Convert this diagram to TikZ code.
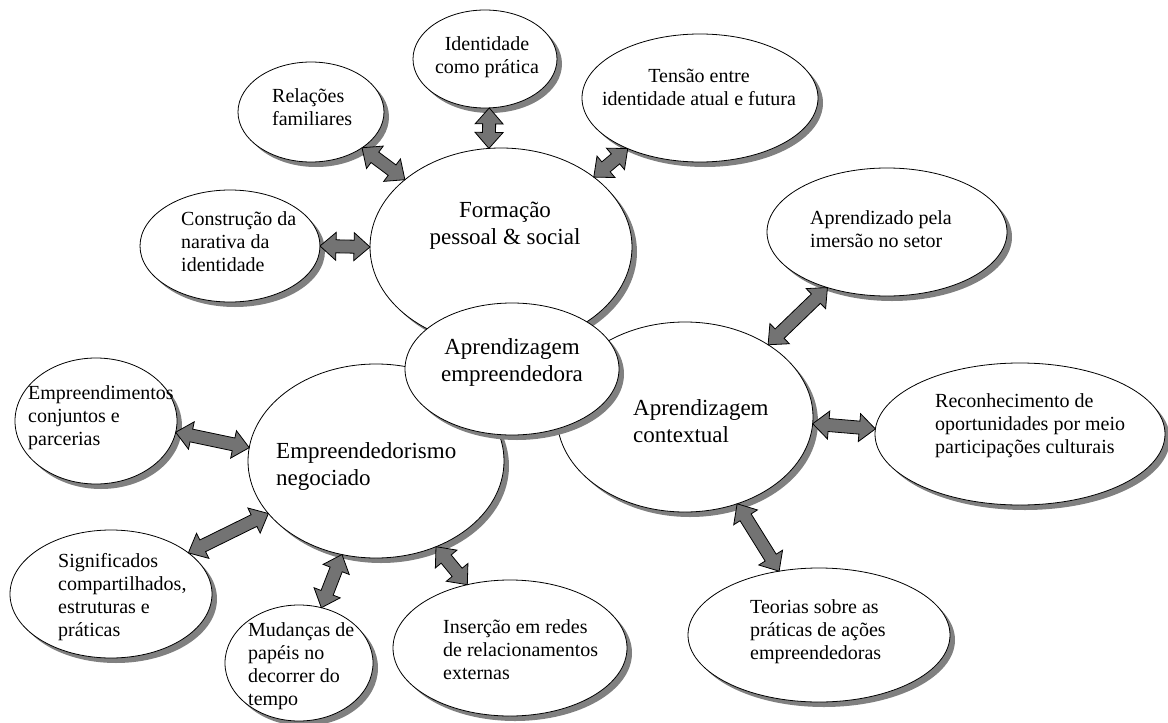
\documentclass[tikz,border=0pt]{standalone}
\usepackage{fontspec}
\setmainfont{Liberation Serif}
\usetikzlibrary{shapes.geometric,shadows,calc}

\tikzset{
  bubble/.style={ellipse, draw=black, line width=0.8pt, fill=white,
    inner sep=0pt, outer sep=0pt,
    drop shadow={shadow xshift=5pt, shadow yshift=-5pt, fill=black!50, opacity=1, draw=none}},
  smalltxt/.style={align=left, anchor=west, inner sep=0pt, font=\fontsize{20}{23}\selectfont},
  smallmid/.style={align=center, inner sep=0pt, font=\fontsize{20}{23}\selectfont},
  bigtxt/.style={align=left, anchor=west, inner sep=0pt, font=\fontsize{23}{27}\selectfont},
  bigmid/.style={align=center, inner sep=0pt, font=\fontsize{23}{27}\selectfont},
  linkarrow/.style={draw=black, line width=0.8pt, fill=black!55, line join=miter}
}

% two-headed block arrow between two border points
\newcommand{\biarrow}[2]{%
  \draw[linkarrow] (#1)
    -- ($(#1)!16pt!(#2)!14pt!90:(#2)$)
    -- ($(#1)!16pt!(#2)!6.5pt!90:(#2)$)
    -- ($(#2)!16pt!(#1)!6.5pt!90:(#2)$)
    -- ($(#2)!16pt!(#1)!14pt!90:(#2)$)
    -- (#2)
    -- ($(#2)!16pt!(#1)!14pt!-90:(#2)$)
    -- ($(#2)!16pt!(#1)!6.5pt!-90:(#2)$)
    -- ($(#1)!16pt!(#2)!6.5pt!-90:(#2)$)
    -- ($(#1)!16pt!(#2)!14pt!-90:(#2)$)
    -- cycle;}

\begin{document}
\begin{tikzpicture}[x=1pt,y=-1pt]
\useasboundingbox (0,0) rectangle (1168,723);

% outer bubbles
\node[bubble, minimum width=144pt, minimum height=98pt]  (idp) at (485,59) {};
\node[bubble, minimum width=146pt, minimum height=100pt] (rel) at (311,112) {};
\node[bubble, minimum width=180pt, minimum height=112pt] (con) at (230,246) {};
\node[bubble, minimum width=236pt, minimum height=128pt] (ten) at (700,98) {};
\node[bubble, minimum width=240pt, minimum height=128pt] (imr) at (887,232) {};
\node[bubble, minimum width=290pt, minimum height=142pt] (rec) at (1020,434) {};
\node[bubble, minimum width=262pt, minimum height=134pt] (teo) at (819,635) {};
\node[bubble, minimum width=162pt, minimum height=126pt] (emp) at (96,421) {};
\node[bubble, minimum width=202pt, minimum height=128pt] (sig) at (111,594) {};
\node[bubble, minimum width=148pt, minimum height=116pt] (mud) at (299,663) {};
\node[bubble, minimum width=234pt, minimum height=136pt] (ins) at (510,648) {};

% hubs
\node[bubble, minimum width=262pt, minimum height=198pt] (fps) at (501,247) {};
\node[bubble, minimum width=256pt, minimum height=190pt] (ctx) at (685,417) {};
\node[bubble, minimum width=256pt, minimum height=194pt] (neg) at (376,461) {};
\node[bubble, minimum width=214pt, minimum height=132pt] (ape) at (512,369) {};

% labels
\node[smallmid] (idp-t) at (487,57) {Identidade\\como prática};
\node[smalltxt] (rel-t) at (272,107) {Relações\\familiares};
\node[smalltxt] (con-t) at (181,242) {Construção da\\narativa da\\identidade};
\node[smallmid] (ten-t) at (699,87) {Tensão entre\\identidade atual e futura};
\node[smalltxt] (imr-t) at (810,229) {Aprendizado pela\\imersão no setor};
\node[smalltxt] (rec-t) at (935,426) {Reconhecimento de\\oportunidades por meio\\participações culturais};
\node[smalltxt] (teo-t) at (750,632) {Teorias sobre as\\práticas de ações\\empreendedoras};
\node[smalltxt] (emp-t) at (28,418) {Empreendimentos\\conjuntos e\\parcerias};
\node[smalltxt] (sig-t) at (58,597) {Significados\\compartilhados,\\estruturas e\\práticas};
\node[smalltxt] (mud-t) at (248,666) {Mudanças de\\papéis no\\decorrer do\\tempo};
\node[smalltxt] (ins-t) at (443,650) {Inserção em redes\\de relacionamentos\\externas};

\node[bigmid] (fps-t) at (505,226) {Formação\\pessoal \& social};
\node[bigmid] (ape-t) at (512,362) {Aprendizagem\\empreendedora};
\node[bigtxt] (ctx-t) at (633,421) {Aprendizagem\\contextual};
\node[bigtxt] (neg-t) at (276,466) {Empreendedorismo\\negociado};

% connectors
\biarrow{idp.275}{fps.97}
\biarrow{rel.325}{fps.145}
\biarrow{ten.215}{fps.37}
\biarrow{con.0}{fps.180}
\biarrow{imr.223}{ctx.41}
\biarrow{ctx.357}{rec.178}
\biarrow{ctx.301}{teo.122}
\biarrow{emp.352}{neg.174}
\biarrow{sig.28}{neg.206}
\biarrow{mud.68}{neg.250}
\biarrow{neg.305}{ins.124}
\end{tikzpicture}
\end{document}
